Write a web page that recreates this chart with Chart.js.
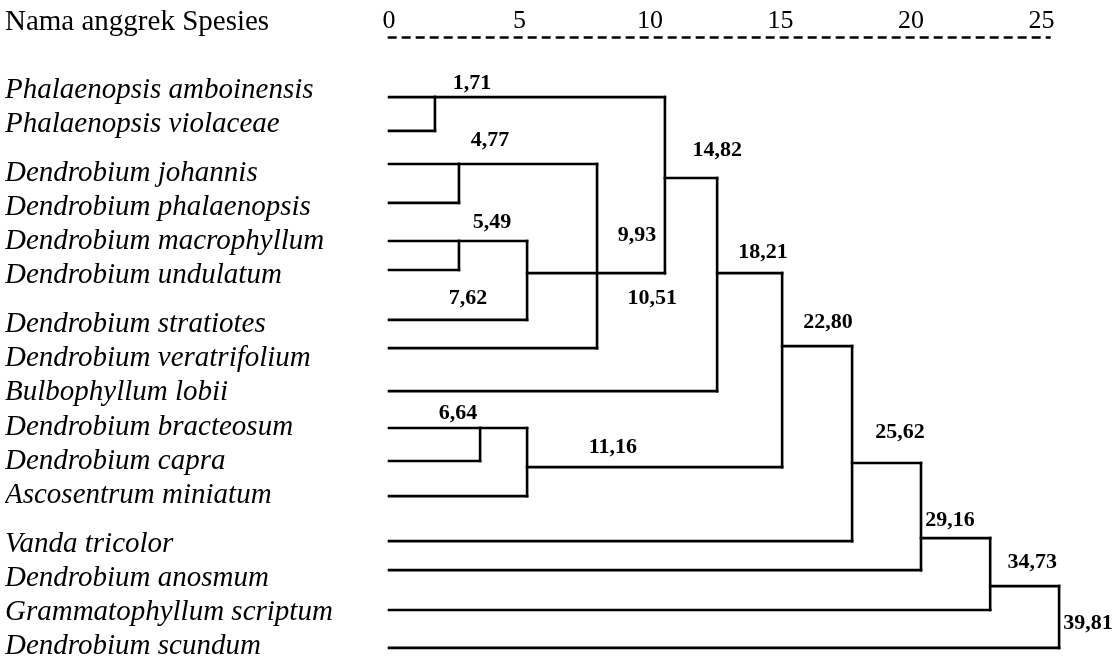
<!DOCTYPE html>
<html>
<head>
<meta charset="utf-8">
<script src="https://cdn.jsdelivr.net/npm/chart.js@4.4.1/dist/chart.umd.min.js"></script>
<style>
  html, body { margin: 0; padding: 0; background: #fff; }
</style>
</head>
<body>
<canvas id="dendro" width="1116" height="656"></canvas>
<script>
// species, top to bottom
const speciesNames = [
  "Phalaenopsis amboinensis", "Phalaenopsis violaceae",
  "Dendrobium johannis", "Dendrobium phalaenopsis", "Dendrobium macrophyllum", "Dendrobium undulatum",
  "Dendrobium stratiotes", "Dendrobium veratrifolium", "Bulbophyllum lobii",
  "Dendrobium bracteosum", "Dendrobium capra", "Ascosentrum miniatum",
  "Vanda tricolor", "Dendrobium anosmum", "Grammatophyllum scriptum", "Dendrobium scundum"
];
// blank-line block each name sits in
const speciesGroup = [0, 0, 1, 1, 1, 1, 2, 2, 2, 2, 2, 2, 3, 3, 3, 3];
// row where each leaf line is drawn (in label rows)
const leafRow = [0.21, 1.20, 2.17, 3.31, 4.43, 5.28, 6.74, 7.57, 8.83, 9.91, 10.88, 11.91, 13.23, 14.08, 15.25, 16.36];
// merge each leaf joins
const leafParent = [0, 0, 1, 1, 2, 2, 3, 4, 6, 7, 7, 8, 10, 11, 12, 13];

// merges: position on the rescaled 0-25 distance axis, row of the outgoing line, parent merge
const mergeX = [1.76, 2.68, 2.68, 5.29, 7.97, 10.57, 12.57, 3.49, 5.29, 15.06, 17.74, 20.38, 23.03, 25.67];
const mergeRow = [0.21, 2.17, 4.43, 5.37, 5.37, 2.58, 5.37, 9.91, 11.06, 7.51, 10.94, 13.14, 14.55, null];
const mergeParent = [5, 4, 3, 4, 5, 6, 9, 8, 9, 10, 11, 12, 13, -1];

// distances written on the tree
const distLabels = ["1,71", "4,77", "5,49", "7,62", "9,93", "10,51", "14,82", "18,21", "22,80",
  "6,64", "11,16", "25,62", "29,16", "34,73", "39,81"];
const distLabelX = [3.18, 3.87, 3.95, 3.03, 9.50, 10.08, 12.57, 14.33, 16.82, 2.64, 8.58, 19.58, 21.49, 24.64, 26.78];
const distLabelRow = [-0.21, 1.47, 3.87, 6.10, 4.25, 6.10, 1.76, 4.75, 6.80, 9.47, 10.47, 10.03, 12.61, 13.84, 15.63];

const distTicks = [0, 5, 10, 15, 20, 25];

const serif = "'Liberation Serif', 'Times New Roman', serif";

// build the elbows of the tree
let segments = [];
speciesNames.forEach((name, i) => {
  const p = leafParent[i];
  segments.push([{ x: 0, y: leafRow[i] }, { x: mergeX[p], y: leafRow[i] }]);
});
mergeX.forEach((x, j) => {
  const rows = [];
  leafParent.forEach((p, i) => { if (p === j) rows.push(leafRow[i]); });
  mergeParent.forEach((p, k) => { if (p === j) rows.push(mergeRow[k]); });
  segments.push([{ x: x, y: Math.min(...rows) }, { x: x, y: Math.max(...rows) }]);
  if (mergeParent[j] >= 0) {
    segments.push([{ x: x, y: mergeRow[j] }, { x: mergeX[mergeParent[j]], y: mergeRow[j] }]);
  }
});

const datasets = segments.map((pts) => ({
  data: pts,
  showLine: true,
  borderColor: "#000",
  borderWidth: 2.6,
  borderCapStyle: "square",
  pointRadius: 0,
  pointHoverRadius: 0,
  fill: false,
  clip: false,
}));

// header, dashed distance axis and the distance numbers
const treeText = {
  id: "treeText",
  afterDatasetsDraw(chart) {
    const { ctx, chartArea, scales } = chart;
    const x = scales.x, y = scales.y;
    ctx.save();
    ctx.strokeStyle = "#000";
    ctx.lineWidth = 2.5;
    ctx.setLineDash([9, 5]);
    ctx.beginPath();
    ctx.moveTo(x.getPixelForValue(-0.05), chartArea.top - 0.5);
    ctx.lineTo(x.getPixelForValue(25.35), chartArea.top - 0.5);
    ctx.stroke();
    ctx.setLineDash([]);

    ctx.fillStyle = "#000";
    ctx.textBaseline = "middle";
    ctx.textAlign = "left";
    ctx.font = "29px " + serif;
    ctx.fillText("Nama anggrek Spesies", 5, 22);

    ctx.textAlign = "center";
    ctx.font = "bold 22px " + serif;
    distLabels.forEach((lbl, i) => {
      ctx.fillText(lbl, x.getPixelForValue(distLabelX[i]), y.getPixelForValue(distLabelRow[i]));
    });
    ctx.restore();
  }
};

const ctx = document.getElementById("dendro").getContext("2d");
const chart = new Chart(ctx, {
  type: "scatter",
  data: { datasets: datasets },
  plugins: [treeText],
  options: {
    responsive: false,
    devicePixelRatio: 1,
    animation: false,
    layout: { padding: { left: 5, top: 0, right: 0, bottom: 0 } },
    plugins: { legend: { display: false }, tooltip: { enabled: false } },
    scales: {
      x: {
        type: "linear",
        position: "top",
        min: 0,
        max: 27.85,
        grid: { display: false, drawTicks: false },
        border: { display: false },
        ticks: { autoSkip: false, maxRotation: 0, padding: 1, color: "#000", font: { family: serif, size: 26 } },
        afterBuildTicks: (s) => { s.ticks = distTicks.map((v) => ({ value: v })); },
        afterFit: (s) => { s.height = 38; s.paddingLeft = 0; s.paddingRight = 0; },
      },
      y: {
        type: "linear",
        reverse: true,
        min: -1.525,
        max: 16.598,
        grid: { display: false, drawTicks: false },
        border: { display: false },
        ticks: {
          autoSkip: false,
          crossAlign: "far",
          padding: 0,
          color: "#000",
          font: { family: serif, size: 29, style: "italic" },
          callback: (v, i) => speciesNames[i],
        },
        afterBuildTicks: (s) => {
          s.ticks = speciesNames.map((n, i) => ({ value: i + 0.44 * speciesGroup[i] }));
        },
        afterFit: (s) => { s.width = 384; s.paddingTop = 0; s.paddingBottom = 0; },
      },
    },
  },
});
</script>
</body>
</html>
